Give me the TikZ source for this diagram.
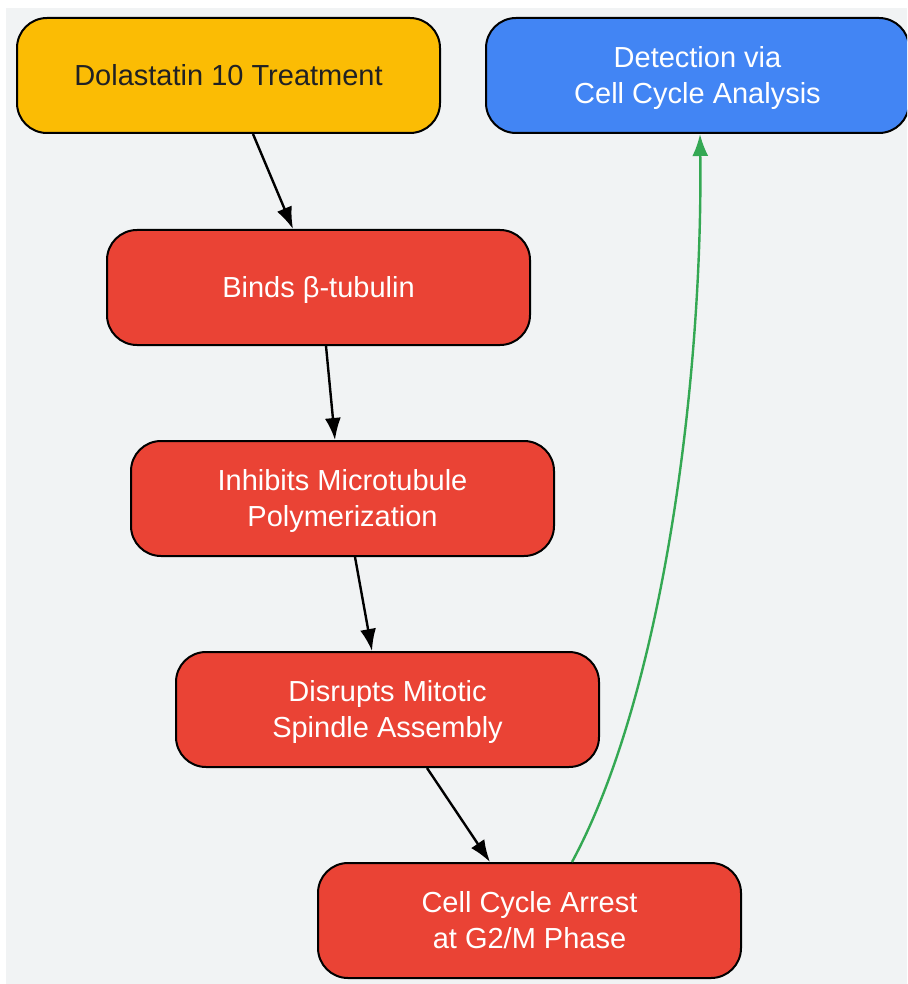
\documentclass[tikz,border=0pt]{standalone}
\usepackage{fontspec}
\setmainfont{Liberation Sans}
\usetikzlibrary{arrows.meta,calc}
\definecolor{bg}{HTML}{F1F3F4}
\definecolor{gyellow}{HTML}{FBBC04}
\definecolor{gblue}{HTML}{4285F4}
\definecolor{gred}{HTML}{EA4335}
\definecolor{ggreen}{HTML}{34A853}
\definecolor{dtext}{HTML}{202124}
\newcommand{\mystrut}{\rule[-8pt]{0pt}{36pt}}
\tikzset{
  box/.style={draw=black, line width=2pt, rounded corners=30pt, minimum width=423pt, minimum height=115pt, align=center, font=\fontsize{29}{36}\selectfont, inner sep=0pt},
  ybox/.style={box, fill=gyellow, text=dtext},
  bbox/.style={box, fill=gblue, text=white},
  rbox/.style={box, fill=gred, text=white},
  flow/.style={draw=black, line width=2.4pt, -{Latex[length=22pt,width=16pt]}},
  gflow/.style={draw=ggreen, line width=2.4pt, -{Latex[length=22pt,width=16pt]}}
}
\begin{document}
\begin{tikzpicture}[x=1pt,y=-1pt]
\useasboundingbox (0,0) rectangle (907,984);
\clip (0,0) rectangle (907,984);
\fill[bg] (6,8) rectangle (907,984);
\node[ybox] (dol) at (228.5,75.5) {\mystrut Dolastatin 10 Treatment};
\node[bbox] (det) at (697.5,75.5) {\mystrut Detection via\\\mystrut Cell Cycle Analysis};
\node[rbox] (binds) at (318.5,287.5) {\mystrut Binds β-tubulin};
\node[rbox] (inh) at (342.5,498.5) {\mystrut Inhibits Microtubule\\\mystrut Polymerization};
\node[rbox] (dis) at (387.5,709.5) {\mystrut Disrupts Mitotic\\\mystrut Spindle Assembly};
\node[rbox] (arr) at (529.5,920.5) {\mystrut Cell Cycle Arrest\\\mystrut at G2/M Phase};
\draw[flow] ([xshift=24.5pt]dol.south) -- ([xshift=-25.5pt]binds.north);
\draw[flow] ([xshift=7.5pt]binds.south) -- ([xshift=-7.5pt]inh.north);
\draw[flow] ([xshift=12.5pt]inh.south) -- ([xshift=-15.5pt]dis.north);
\draw[flow] ([xshift=39.5pt]dis.south) -- ([xshift=-39.5pt]arr.north);
\draw[gflow] ([xshift=42.5pt]arr.north) .. controls (665,690) and (703,370) .. ([xshift=2.5pt]det.south);
\end{tikzpicture}
\end{document}
